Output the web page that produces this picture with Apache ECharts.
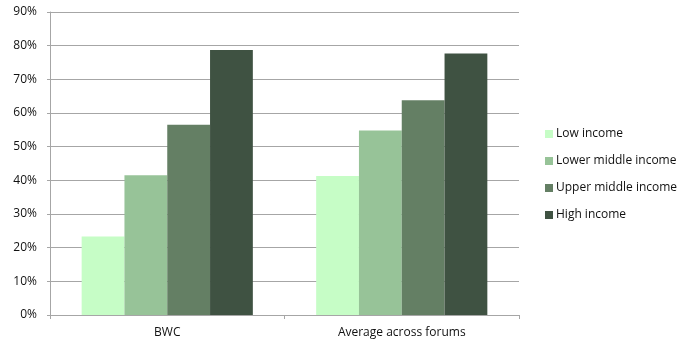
<!DOCTYPE html>
<html>
<head>
<meta charset="utf-8">
<script src="https://cdn.jsdelivr.net/npm/echarts@6/dist/echarts.min.js"></script>
<style>
html,body{margin:0;padding:0;background:#fff;}
#chart{width:688px;height:342px;}
</style>
</head>
<body>
<div id="chart"></div>
<script>
// Share of respondents by income group
const categories = ['BWC', 'Average across forums'];
const seriesNames = ['Low income', 'Lower middle income', 'Upper middle income', 'High income'];
const lowIncome = [23.3, 41.3];
const lowerMiddle = [41.5, 54.8];
const upperMiddle = [56.5, 63.8];
const highIncome = [78.7, 77.7];
const colors = ['#c6fdc6', '#97c398', '#647f64', '#3f5242'];

const values = [lowIncome, lowerMiddle, upperMiddle, highIncome];
const font = 'Open Sans';

const chart = echarts.init(document.getElementById('chart'));
chart.setOption({
  animation: false,
  textStyle: { fontFamily: font },
  grid: { left: 50, right: 169, top: 12, bottom: 27 },
  legend: {
    orient: 'vertical',
    left: 540,
    top: 123,
    itemWidth: 8,
    itemHeight: 8,
    itemGap: 15,
    icon: 'rect',
    textStyle: { fontFamily: font, fontSize: 12, color: '#111', padding: [0, 0, 0, -2] },
    data: seriesNames
  },
  xAxis: {
    type: 'category',
    data: categories,
    axisLine: { lineStyle: { color: '#a6a6a6', width: 1 } },
    axisTick: { show: true, length: 4, lineStyle: { color: '#a6a6a6' } },
    axisLabel: { color: '#111', fontSize: 12, fontFamily: font, margin: 12 }
  },
  yAxis: {
    type: 'value',
    min: 0,
    max: 90,
    interval: 10,
    axisLine: { show: true, lineStyle: { color: '#a6a6a6', width: 1 } },
    axisTick: { show: true, length: 3, lineStyle: { color: '#a6a6a6' } },
    splitLine: { lineStyle: { color: '#a6a6a6', width: 1 } },
    axisLabel: { color: '#111', fontSize: 12, fontFamily: font, margin: 13, formatter: '{value}%' }
  },
  series: values.map((v, i) => ({
    name: seriesNames[i],
    type: 'bar',
    data: v,
    barGap: '0%',
    barCategoryGap: '27%',
    itemStyle: { color: colors[i] }
  }))
});
</script>
</body>
</html>
